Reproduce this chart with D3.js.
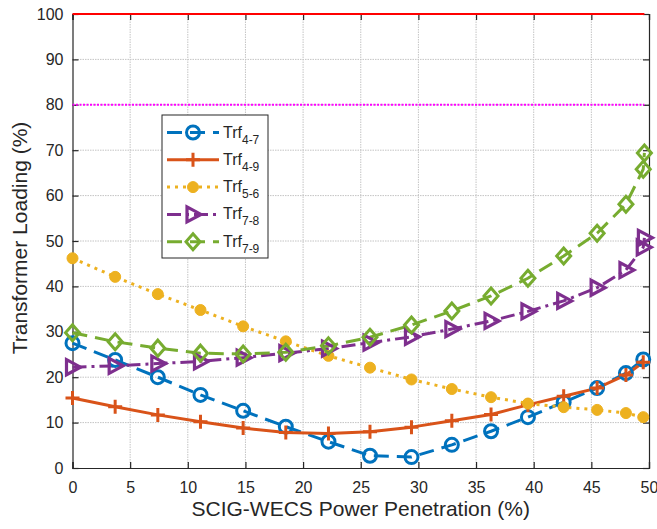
<!DOCTYPE html>
<html>
<head>
<meta charset="utf-8">
<script src="https://cdn.jsdelivr.net/npm/d3@7"></script>
<style>
  html, body { margin: 0; padding: 0; background: #fff; }
  svg { display: block; }
  text { font-family: "Liberation Sans", Arial, Helvetica, sans-serif; fill: #262626; }
</style>
</head>
<body>
<svg id="chart" width="657" height="529"></svg>
<script>
// ---- data ----
const penetration = [0, 3.7, 7.4, 11.1, 14.8, 18.5, 22.2, 25.8, 29.4, 32.9, 36.3, 39.5, 42.6, 45.5, 48.0, 49.5];
const penetrationExt = [0, 3.7, 7.4, 11.1, 14.8, 18.5, 22.2, 25.8, 29.4, 32.9, 36.3, 39.5, 42.6, 45.5, 48.0, 49.5, 49.6];
const trf47 = [27.5, 23.8, 20.0, 16.1, 12.6, 9.1, 5.8, 2.7, 2.4, 5.1, 8.1, 11.2, 14.5, 17.6, 20.9, 23.9];
const trf49 = [15.4, 13.5, 11.7, 10.2, 8.8, 7.8, 7.6, 8.0, 9.0, 10.4, 11.8, 13.9, 15.8, 17.6, 20.5, 23.3];
const trf56 = [46.2, 42.1, 38.3, 34.8, 31.2, 27.9, 24.7, 22.1, 19.5, 17.4, 15.6, 14.2, 13.4, 12.8, 12.1, 11.2];
const trf78 = [22.2, 22.5, 23.0, 23.5, 24.3, 25.3, 26.3, 27.6, 28.9, 30.6, 32.4, 34.5, 36.8, 39.7, 43.6, 48.6, 50.7];
const trf79 = [29.8, 27.8, 26.4, 25.3, 25.1, 25.5, 26.9, 28.8, 31.5, 34.6, 37.9, 41.8, 46.7, 51.7, 58.1, 65.8, 69.4];
const seriesNames = ["4-7", "4-9", "5-6", "7-8", "7-9"];
const xTicks = [0, 5, 10, 15, 20, 25, 30, 35, 40, 45, 50];
const yTicks = [0, 10, 20, 30, 40, 50, 60, 70, 80, 90, 100];
const limitRated = 100;
const limitWarn = 80;
const limitEndX = 49.6;

const series = [
  { name: seriesNames[0], x: penetration, y: trf47, color: "#0072BD", dash: "15,8", marker: "circle" },
  { name: seriesNames[1], x: penetration, y: trf49, color: "#D95319", dash: null, marker: "plus" },
  { name: seriesNames[2], x: penetration, y: trf56, color: "#EDB120", dash: "3,5", marker: "dot" },
  { name: seriesNames[3], x: penetrationExt, y: trf78, color: "#7E2F8E", dash: "14,5,3,5", marker: "triangle" },
  { name: seriesNames[4], x: penetrationExt, y: trf79, color: "#77AC30", dash: "15,8", marker: "diamond" }
];

const svg = d3.select("#chart");
const L = 72.5, R = 649, T = 14, B = 468;
const x = d3.scaleLinear().domain([0, 50]).range([L, R]);
const y = d3.scaleLinear().domain([0, 100]).range([B, T]);
const axisColor = "#262626";

// grid
const grid = svg.append("g");
grid.selectAll("line.gx").data(xTicks.slice(1, -1)).enter().append("line")
  .attr("x1", d => x(d)).attr("x2", d => x(d)).attr("y1", T).attr("y2", B)
  .attr("stroke", "#c4c4c4").attr("stroke-width", 1).attr("stroke-dasharray", "1.5,1");
grid.selectAll("line.gy").data(yTicks.slice(1, -1)).enter().append("line")
  .attr("x1", L).attr("x2", R).attr("y1", d => y(d)).attr("y2", d => y(d))
  .attr("stroke", "#c4c4c4").attr("stroke-width", 1).attr("stroke-dasharray", "1.5,1");

// axes
const fmt = d3.format("d");
const gx = svg.append("g").attr("transform", `translate(0,${B})`)
  .call(d3.axisBottom(x).tickValues(xTicks).tickFormat(fmt).tickSize(-6).tickPadding(14));
const gxTop = svg.append("g").attr("transform", `translate(0,${T})`)
  .call(d3.axisTop(x).tickValues(xTicks).tickFormat("").tickSize(-6));
const gy = svg.append("g").attr("transform", `translate(${L},0)`)
  .call(d3.axisLeft(y).tickValues(yTicks).tickFormat(fmt).tickSize(-6).tickPadding(9));
const gyR = svg.append("g").attr("transform", `translate(${R},0)`)
  .call(d3.axisRight(y).tickValues(yTicks).tickFormat("").tickSize(-6));
[gx, gxTop, gy, gyR].forEach(g => {
  g.select(".domain").attr("stroke", axisColor).attr("stroke-width", 1.2);
  g.selectAll(".tick line").attr("stroke", axisColor).attr("stroke-width", 1.2);
  g.selectAll(".tick text").attr("fill", axisColor).style("font-size", "16px")
    .style("font-family", '"Liberation Sans", Arial, sans-serif');
});

// limit lines
svg.append("line").attr("x1", x(0)).attr("x2", x(limitEndX)).attr("y1", y(limitRated)).attr("y2", y(limitRated))
  .attr("stroke", "#FF0000").attr("stroke-width", 2);
svg.append("line").attr("x1", x(0)).attr("x2", x(limitEndX)).attr("y1", y(limitWarn)).attr("y2", y(limitWarn))
  .attr("stroke", "#FF00FF").attr("stroke-width", 2).attr("stroke-dasharray", "2,1.5");

// marker drawing
function drawMarker(g, type, color) {
  if (type === "circle") {
    g.append("circle").attr("r", 6.5).attr("fill", "none").attr("stroke", color).attr("stroke-width", 3);
  } else if (type === "plus") {
    g.append("path").attr("d", "M-7,0H7M0,-7V7").attr("stroke", color).attr("stroke-width", 3).attr("fill", "none");
  } else if (type === "dot") {
    g.append("circle").attr("r", 5.5).attr("fill", color).attr("stroke", color).attr("stroke-width", 1);
  } else if (type === "triangle") {
    g.append("path").attr("d", "M-6,-7.5L8,0L-6,7.5Z").attr("fill", "none").attr("stroke", color)
      .attr("stroke-width", 3.2).attr("stroke-linejoin", "miter");
  } else if (type === "diamond") {
    g.append("path").attr("d", "M0,-8L7,0L0,8L-7,0Z").attr("fill", "none").attr("stroke", color)
      .attr("stroke-width", 3);
  }
}

const line = d3.line().x(d => x(d[0])).y(d => y(d[1]));
const plot = svg.append("g");
series.forEach(s => {
  const pts = s.x.map((xv, i) => [xv, s.y[i]]);
  const p = plot.append("path").datum(pts).attr("d", line).attr("fill", "none")
    .attr("stroke", s.color).attr("stroke-width", 3).attr("stroke-linejoin", "round");
  if (s.dash) p.attr("stroke-dasharray", s.dash);
});
series.forEach(s => {
  s.x.forEach((xv, i) => {
    const g = plot.append("g").attr("transform", `translate(${x(xv)},${y(s.y[i])})`);
    drawMarker(g, s.marker, s.color);
  });
});

// axis labels
svg.append("text").attr("x", (L + R) / 2).attr("y", 516).attr("text-anchor", "middle")
  .style("font-size", "21px").text("SCIG-WECS Power Penetration (%)");
svg.append("text").attr("transform", `translate(27,${(T + B) / 2 - 3}) rotate(-90)`).attr("text-anchor", "middle")
  .style("font-size", "21px").text("Transformer Loading (%)");

// legend
const lg = svg.append("g");
lg.append("rect").attr("x", 162).attr("y", 115).attr("width", 106).attr("height", 143)
  .attr("fill", "#fff").attr("stroke", axisColor).attr("stroke-width", 1);
series.forEach((s, i) => {
  const cy = 132.5 + i * 27.3;
  const l = lg.append("line").attr("x1", 167).attr("x2", 219).attr("y1", cy).attr("y2", cy)
    .attr("stroke", s.color).attr("stroke-width", 3);
  if (s.dash) l.attr("stroke-dasharray", s.dash);
  const g = lg.append("g").attr("transform", `translate(193,${cy})`);
  drawMarker(g, s.marker, s.color);
  const t = lg.append("text").attr("x", 223).attr("y", cy + 5).style("font-size", "16px");
  t.append("tspan").text("Trf");
  t.append("tspan").attr("dy", 6).style("font-size", "12px").text(s.name);
});
</script>
</body>
</html>
